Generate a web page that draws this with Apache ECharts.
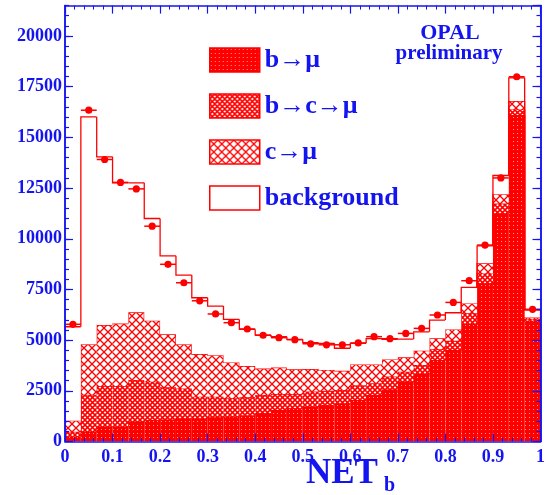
<!DOCTYPE html>
<html>
<head>
<meta charset="utf-8">
<script src="https://cdn.jsdelivr.net/npm/echarts@6/dist/echarts.min.js"></script>
<style>
html, body { margin: 0; padding: 0; background: #fff; }
#main { width: 548px; height: 495px; }
</style>
</head>
<body>
<div id="main"></div>
<script>
// 30 bins of NET_b between 0 and 1
var nBins = 30;
// MC contributions per bin (stacked from the bottom)
var bMu  = [240, 480, 730, 730, 980, 1060, 1090, 1140, 1140, 1190, 1220, 1300, 1390, 1550, 1640, 1720, 1800, 1880, 2050, 2290, 2570, 2950, 3330, 4020, 4510, 5790, 7800, 11250, 16100, 5950];
var bcMu = [240, 1820, 2010, 2010, 2050, 1890, 1580, 1480, 1070, 1020, 910, 880, 900, 790, 700, 740, 700, 660, 730, 580, 630, 490, 440, 530, 460, 530, 490, 490, 280, 100];
var cMu  = [545, 2500, 3000, 3080, 3340, 3010, 2620, 2180, 2100, 2050, 1770, 1540, 1310, 1310, 1220, 1110, 1030, 950, 1020, 930, 850, 710, 710, 540, 560, 490, 500, 460, 410, 70];
var bkg  = [4635, 11210, 8300, 6940, 6390, 5040, 3870, 3410, 2780, 2420, 2120, 1810, 1650, 1520, 1480, 1300, 1310, 1110, 1040, 1270, 990, 900, 930, 900, 820, 790, 860, 920, 1150, 360];
// measured data
var dataPts = [5780, 16340, 13910, 12780, 12460, 10620, 8740, 7830, 6940, 6290, 5860, 5550, 5240, 5120, 5020, 4820, 4770, 4770, 4860, 5170, 5070, 5330, 5580, 6240, 6860, 7930, 9690, 13000, 17990, 6520];
var names = ['b\u2192\u03bc', 'b\u2192c\u2192\u03bc', 'c\u2192\u03bc', 'background'];

var blue = '#1414f0';
var red = '#ff0000';
var serif = '"Liberation Serif", "DejaVu Serif", serif';

// hatch patterns
function hatch(size, width, bg, dot) {
  var c = document.createElement('canvas');
  c.width = size; c.height = size;
  var ctx = c.getContext('2d');
  ctx.fillStyle = bg;
  ctx.fillRect(0, 0, size, size);
  if (dot) {
    ctx.fillStyle = dot;
    ctx.fillRect(1, 1, 1, 1);
    return c;
  }
  ctx.strokeStyle = red;
  ctx.lineWidth = width;
  for (var k = -size; k <= size; k += size) {
    ctx.beginPath();
    ctx.moveTo(k, 0); ctx.lineTo(k + size, size);
    ctx.moveTo(k + size, 0); ctx.lineTo(k, size);
    ctx.stroke();
  }
  return c;
}
var fills = [
  { image: hatch(4, 0, red, '#ff9a9a'), repeat: 'repeat' },
  { image: hatch(5, 1.6, '#fff'), repeat: 'repeat' },
  { image: hatch(8, 1.3, '#fff'), repeat: 'repeat' },
  '#ffffff'
];

// cumulative stacks
var layers = [bMu, bcMu, cMu, bkg];
var cum = [];
var running = [];
for (var i = 0; i < nBins; i++) running.push(0);
layers.forEach(function (arr) {
  var lower = running.slice();
  running = running.map(function (v, j) { return v + arr[j]; });
  cum.push({ lower: lower, upper: running.slice() });
});

function layerData(l) {
  var out = [];
  for (var i = 0; i < nBins; i++) {
    out.push([i / nBins, (i + 1) / nBins, cum[l].lower[i], cum[l].upper[i],
      i > 0 ? cum[l].upper[i - 1] : 0, i === nBins - 1 ? 1 : 0]);
  }
  return out;
}

function makeLayer(l) {
  var fill = fills[l];
  return {
    name: names[l],
    type: 'custom',
    z: 2,
    clip: true,
    itemStyle: { color: fill, borderColor: red, borderWidth: 1.5 },
    data: layerData(l),
    renderItem: function (params, api) {
      var lo = api.value(0), hi = api.value(1);
      var p0 = api.coord([lo, api.value(2)]);
      var p1 = api.coord([hi, api.value(3)]);
      var pPrev = api.coord([lo, api.value(4)]);
      var pts = [[p0[0], pPrev[1]], [p0[0], p1[1]], [p1[0], p1[1]]];
      if (api.value(5)) pts.push([p1[0], api.coord([hi, 0])[1]]);
      return {
        type: 'group',
        children: [
          { type: 'rect', shape: { x: p0[0], y: p1[1], width: p1[0] - p0[0], height: p0[1] - p1[1] },
            style: { fill: fill } },
          { type: 'polyline', shape: { points: pts },
            style: { stroke: red, lineWidth: 1.3, fill: null } }
        ]
      };
    }
  };
}

var pointData = dataPts.map(function (v, i) { return [i / nBins, (i + 1) / nBins, v]; });

var series = [0, 1, 2, 3].map(makeLayer);
series.push({
  name: 'data',
  type: 'custom',
  z: 3,
  data: pointData,
  renderItem: function (params, api) {
    var lo = api.value(0), hi = api.value(1), v = api.value(2);
    var a = api.coord([lo, v]), b = api.coord([hi, v]), c = api.coord([(lo + hi) / 2, v]);
    return {
      type: 'group',
      children: [
        { type: 'line', shape: { x1: a[0], y1: a[1], x2: b[0], y2: b[1] }, style: { stroke: red, lineWidth: 1.5 } },
        { type: 'circle', shape: { cx: c[0], cy: c[1], r: 3.6 }, style: { fill: red } }
      ]
    };
  }
});

function xAx(pos, labels) {
  return {
    type: 'value', position: pos, min: 0, max: 1, interval: 0.1, z: 10,
    axisLine: { onZero: false, lineStyle: { color: blue, width: 1.5 } },
    axisTick: { inside: true, length: 8, lineStyle: { color: blue, width: 1.2 } },
    minorTick: { show: true, splitNumber: 5, length: 4, lineStyle: { color: blue, width: 1 } },
    splitLine: { show: false },
    axisLabel: { show: labels, color: blue, fontFamily: serif, fontWeight: 'bold', fontSize: 18, margin: 7 }
  };
}
function yAx(pos, step, len, labels) {
  return {
    type: 'value', position: pos, min: 0, max: 21500, interval: step, z: 10,
    axisLine: { show: true, onZero: false, lineStyle: { color: blue, width: 1.5 } },
    axisTick: { inside: true, length: len, lineStyle: { color: blue, width: 1.2 } },
    splitLine: { show: false },
    axisLabel: { show: labels, showMaxLabel: false, color: blue, fontFamily: serif, fontWeight: 'bold', fontSize: 18, margin: 3,
      formatter: function (v) { return String(v); } }
  };
}

var chart = echarts.init(document.getElementById('main'));
chart.setOption({
  animation: false,
  grid: { left: 65, right: 2, top: 5.6, bottom: 53.5 },
  xAxis: [xAx('bottom', true), xAx('top', false)],
  yAxis: [yAx('left', 2500, 8, true), yAx('left', 500, 4, false), yAx('right', 2500, 8, false), yAx('right', 500, 4, false)],
  legend: {
    data: names,
    orient: 'vertical',
    left: 209, top: 47,
    padding: 0,
    itemWidth: 50, itemHeight: 24, itemGap: 20,
    icon: 'rect',
    selectedMode: false,
    itemStyle: { borderColor: red, borderWidth: 1.5 },
    textStyle: { color: blue, fontFamily: serif, fontWeight: 'bold', fontSize: 26, lineHeight: 24 }
  },
  graphic: [
    { type: 'text', x: 450, y: 33, style: { text: 'OPAL', fill: blue, font: 'bold 22px ' + serif, align: 'center', verticalAlign: 'middle' } },
    { type: 'text', x: 449, y: 54, style: { text: 'preliminary', fill: blue, font: 'bold 21px ' + serif, align: 'center', verticalAlign: 'middle' } },
    { type: 'text', x: 306, y: 474, style: { text: 'NET', fill: blue, font: 'bold 35px ' + serif, align: 'left', verticalAlign: 'middle' } },
    { type: 'text', x: 384, y: 486, style: { text: 'b', fill: blue, font: 'bold 20px ' + serif, align: 'left', verticalAlign: 'middle' } }
  ],
  series: series
});
</script>
</body>
</html>
